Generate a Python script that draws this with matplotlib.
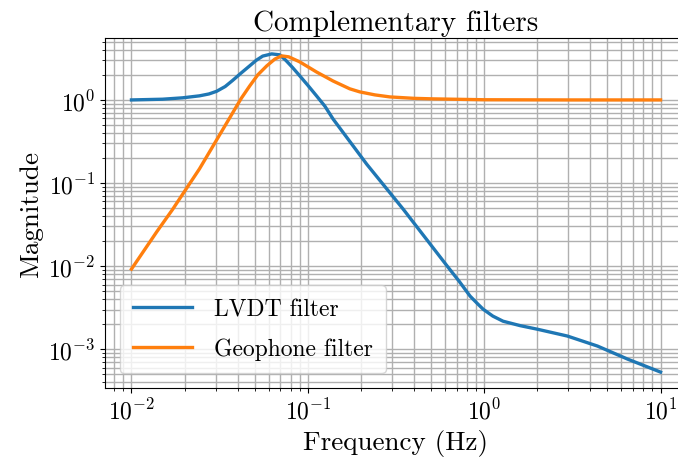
import matplotlib
matplotlib.use("Agg")
import matplotlib.pyplot as plt

plt.rcParams['font.family'] = 'serif'
plt.rcParams['font.serif'] = ['cmr10']
plt.rcParams['mathtext.fontset'] = 'cm'
plt.rcParams['axes.formatter.use_mathtext'] = True
plt.rcParams['font.size'] = 19.5

# values (frequency in Hz, magnitude)
lvdt_f = [0.01, 0.015, 0.0195, 0.0243, 0.0275, 0.0304, 0.034, 0.0375, 0.042, 0.0468,
          0.051, 0.0555, 0.0624, 0.0693, 0.075, 0.082, 0.090, 0.1, 0.112, 0.125,
          0.139, 0.216, 0.347, 0.617, 0.72, 0.832, 0.92, 0.986, 1.12, 1.28,
          1.6, 2.0, 2.96, 4.39, 6.5, 10.0]
lvdt_mag = [1.0, 1.02, 1.06, 1.12, 1.18, 1.27, 1.45, 1.72, 2.12, 2.57,
            3.0, 3.37, 3.58, 3.49, 3.0, 2.45, 1.95, 1.5, 1.12, 0.84,
            0.59, 0.168, 0.0486, 0.0100, 0.0066, 0.00435, 0.0035, 0.00303, 0.0025, 0.00217,
            0.00192, 0.00174, 0.00144, 0.00109, 0.00076, 0.00053]

geo_f = [0.01, 0.0139, 0.0171, 0.0187, 0.0243, 0.0304, 0.0375, 0.042, 0.0468, 0.052,
         0.0585, 0.065, 0.071, 0.078, 0.090, 0.112, 0.139, 0.173, 0.197, 0.24,
         0.292, 0.4, 0.51, 1.0, 3.0, 10.0]
geo_mag = [0.0092, 0.0258, 0.0480, 0.064, 0.148, 0.33, 0.70, 1.05, 1.47, 2.0,
           2.57, 3.1, 3.39, 3.3, 2.87, 2.17, 1.69, 1.36, 1.25, 1.15,
           1.087, 1.045, 1.03, 1.005, 1.0, 1.0]

fig = plt.figure(figsize=(6.78, 4.64), dpi=100)
ax = fig.add_axes([105 / 678, 75 / 464, 582 / 678, 350 / 464])

ax.loglog(lvdt_f, lvdt_mag, lw=2.4, label='LVDT filter')
ax.loglog(geo_f, geo_mag, lw=2.4, label='Geophone filter')

ax.grid(True, which='both', color='#b0b0b0', lw=1.0)
ax.tick_params(labelsize=17)
ax.set_xlabel('Frequency (Hz)')
ax.set_ylabel('Magnitude')
ax.legend(loc='lower left', fontsize=17, handlelength=2.5, handletextpad=0.95,
          borderaxespad=0.62, labelspacing=0.75, borderpad=0.55)
ax.set_title('Complementary filters', fontsize=21, pad=6)

fig.savefig('out.png', dpi=100)
